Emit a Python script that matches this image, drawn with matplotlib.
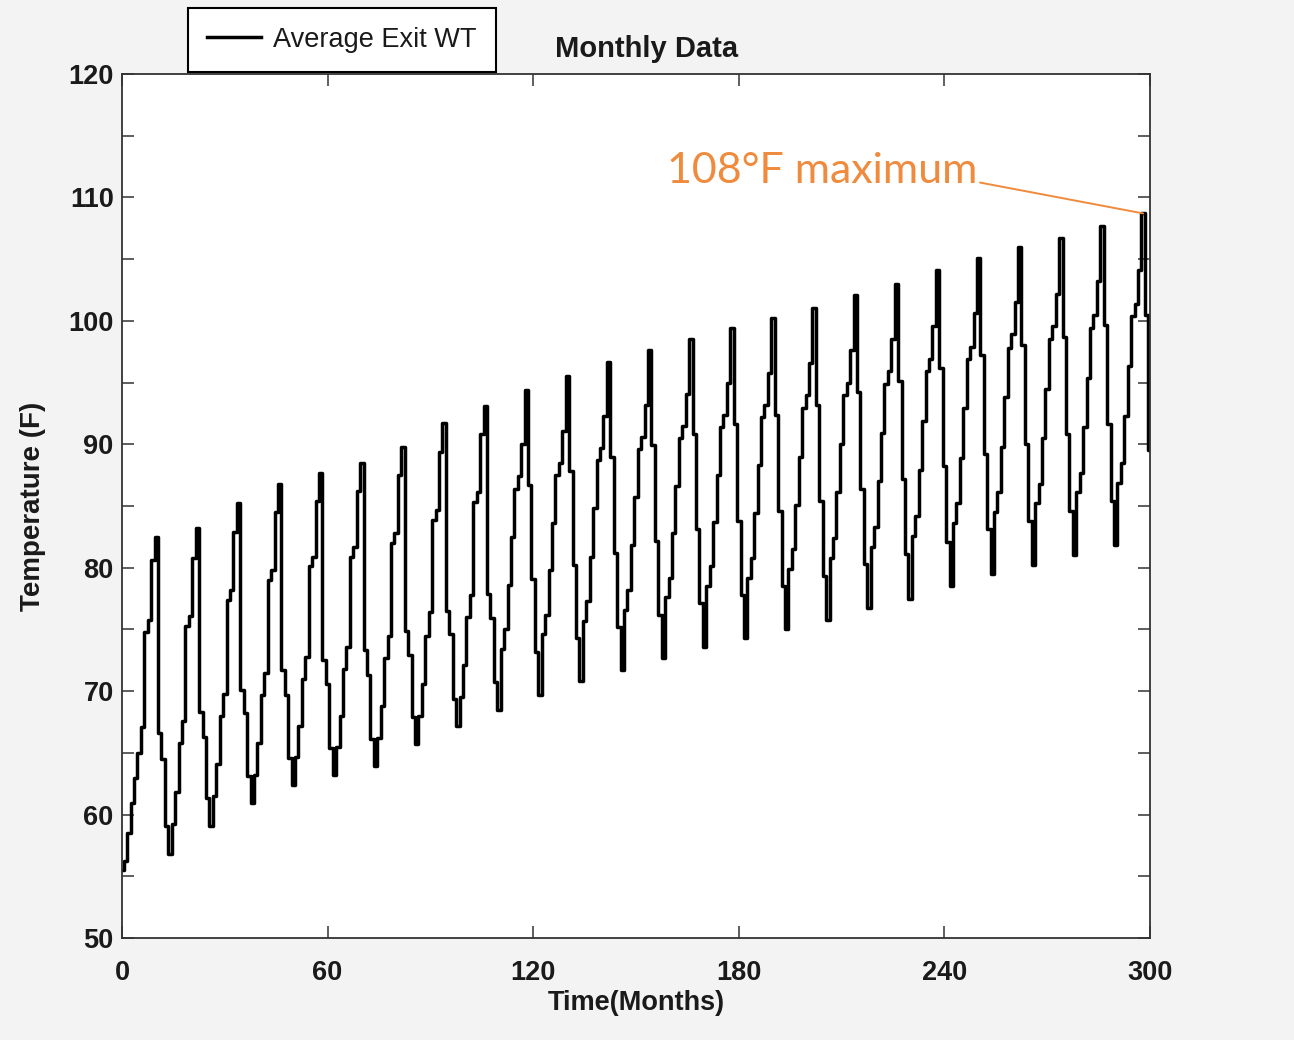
import numpy as np
import matplotlib
matplotlib.use("Agg")
import matplotlib.pyplot as plt
from matplotlib.ticker import MultipleLocator

# Monthly average exit water temperature (F), month 0 .. 300
exit_wt = [
    55.5, 56.2, 58.5, 60.9, 63.0, 65.0, 67.1, 74.8, 75.8, 80.6, 82.5, 66.6,
    64.5, 59.1, 56.8, 59.2, 61.8, 65.8, 67.6, 75.3, 76.1, 80.8, 83.2, 68.3,
    66.3, 61.3, 59.1, 61.5, 64.1, 68.0, 69.8, 77.4, 78.2, 82.9, 85.2, 70.1,
    68.2, 63.1, 60.9, 63.2, 65.8, 69.7, 71.5, 79.0, 79.8, 84.5, 86.8, 71.7,
    69.7, 64.6, 62.4, 64.7, 67.2, 71.0, 72.8, 80.1, 80.9, 85.4, 87.7, 72.5,
    70.6, 65.4, 63.2, 65.5, 68.0, 71.8, 73.6, 80.9, 81.7, 86.2, 88.5, 73.3,
    71.3, 66.1, 63.9, 66.2, 68.8, 72.7, 74.5, 82.0, 82.8, 87.5, 89.8, 74.9,
    72.9, 67.9, 65.7, 68.0, 70.6, 74.5, 76.4, 83.9, 84.7, 89.4, 91.7, 76.5,
    74.6, 69.4, 67.2, 69.5, 72.1, 76.0, 77.8, 85.3, 86.1, 90.8, 93.1, 77.9,
    75.9, 70.7, 68.5, 73.4, 75.0, 78.6, 82.5, 86.4, 87.4, 90.0, 94.4, 86.7,
    79.1, 73.2, 69.7, 74.6, 76.2, 79.8, 83.6, 87.5, 88.5, 91.1, 95.5, 87.8,
    80.2, 74.3, 70.8, 75.7, 77.3, 80.9, 84.8, 88.7, 89.7, 92.3, 96.7, 89.0,
    81.2, 75.2, 71.7, 76.6, 78.2, 81.8, 85.7, 89.6, 90.6, 93.2, 97.6, 89.9,
    82.2, 76.2, 72.7, 77.6, 79.2, 82.8, 86.6, 90.5, 91.5, 94.1, 98.5, 90.8,
    83.1, 77.1, 73.6, 78.5, 80.1, 83.7, 87.5, 91.4, 92.4, 95.0, 99.4, 91.6,
    83.8, 77.8, 74.3, 79.2, 80.8, 84.4, 88.3, 92.2, 93.2, 95.8, 100.2, 92.4,
    84.6, 78.5, 75.0, 79.9, 81.5, 85.1, 89.0, 92.9, 94.0, 96.6, 101.0, 93.2,
    85.4, 79.3, 75.8, 80.8, 82.4, 86.1, 90.0, 94.0, 95.0, 97.6, 102.1, 94.2,
    86.4, 80.3, 76.7, 81.7, 83.3, 87.0, 90.9, 94.9, 95.9, 98.5, 103.0, 95.1,
    87.2, 81.1, 77.5, 82.6, 84.2, 87.9, 91.9, 95.9, 96.9, 99.6, 104.1, 96.2,
    88.2, 82.1, 78.5, 83.6, 85.2, 88.9, 92.9, 96.9, 97.9, 100.6, 105.1, 97.2,
    89.2, 83.1, 79.5, 84.5, 86.1, 89.8, 93.8, 97.8, 98.9, 101.5, 106.0, 98.0,
    90.0, 83.8, 80.2, 85.2, 86.8, 90.5, 94.5, 98.5, 99.6, 102.2, 106.7, 98.7,
    90.8, 84.6, 81.0, 86.1, 87.7, 91.4, 95.4, 99.4, 100.5, 103.2, 107.7, 99.7,
    91.6, 85.4, 81.8, 86.9, 88.5, 92.3, 96.3, 100.4, 101.4, 104.1, 108.7, 100.5,
    89.5,
]
months = np.arange(len(exit_wt))

x_ticks = [0, 60, 120, 180, 240, 300]
y_ticks = [50, 60, 70, 80, 90, 100, 110, 120]

series_label = "Average Exit WT"
title = "Monthly Data"
x_label = "Time(Months)"
y_label = "Temperature (F)"
note_text = "108\u00b0F maximum"
note_anchor = (250.4, 111.2)   # where the callout text ends

orange = "#F08A3C"
txt_col = "#1a1a1a"

plt.rcParams["font.family"] = ["Liberation Sans", "DejaVu Sans"]

fig = plt.figure(figsize=(12.94, 10.40), dpi=100, facecolor="#f3f3f3")
ax = fig.add_axes([0.0943, 0.0981, 0.7944, 0.8308])
ax.set_facecolor("white")

line, = ax.plot(months, exit_wt, drawstyle="steps-mid", color="black",
                lw=2.5, label=series_label)

ax.set_xlim(0, 300)
ax.set_ylim(50, 120)
ax.set_xticks(x_ticks)
ax.set_yticks(y_ticks)
ax.yaxis.set_minor_locator(MultipleLocator(5))

ax.tick_params(axis="both", which="both", direction="in", top=True, right=True,
               length=8.5, width=1.1, color="#333333")
ax.tick_params(axis="x", which="both", pad=16)
ax.tick_params(axis="y", which="both", pad=6)
for lab in ax.get_xticklabels() + ax.get_yticklabels():
    lab.set_fontsize(19.5)
    lab.set_fontweight("bold")
    lab.set_color(txt_col)

for sp in ax.spines.values():
    sp.set_linewidth(1.3)
    sp.set_color("#333333")

ax.set_xlabel(x_label, fontsize=19.5, fontweight="bold", color=txt_col, labelpad=3)
ax.set_ylabel(y_label, fontsize=20, fontweight="bold", color=txt_col, labelpad=16)
ax.set_title(title, fontsize=21, fontweight="bold", color=txt_col, pad=12,
             x=0.51)

leg = ax.legend(handles=[line], loc="upper left",
                bbox_to_anchor=(188 / 1294, 1 - 8 / 1040),
                bbox_transform=fig.transFigure, fontsize=19.5, frameon=True,
                fancybox=False, edgecolor="black", framealpha=1,
                handlelength=2.0, handletextpad=0.45, borderpad=0.7,
                borderaxespad=0)
leg.get_frame().set_linewidth(1.5)
for t in leg.get_texts():
    t.set_color(txt_col)

# callout for the maximum
i_max = int(np.argmax(exit_wt))
ax.annotate("", xy=(months[i_max], exit_wt[i_max]), xytext=note_anchor,
            arrowprops=dict(arrowstyle="-", color=orange, lw=1.4,
                            shrinkA=0, shrinkB=0))
ax.text(note_anchor[0] - 0.8, note_anchor[1], note_text, ha="right",
        va="baseline", fontsize=31, color=orange, family=["Lato", "DejaVu Sans"])

fig.savefig("out.png", dpi=100, facecolor=fig.get_facecolor())
